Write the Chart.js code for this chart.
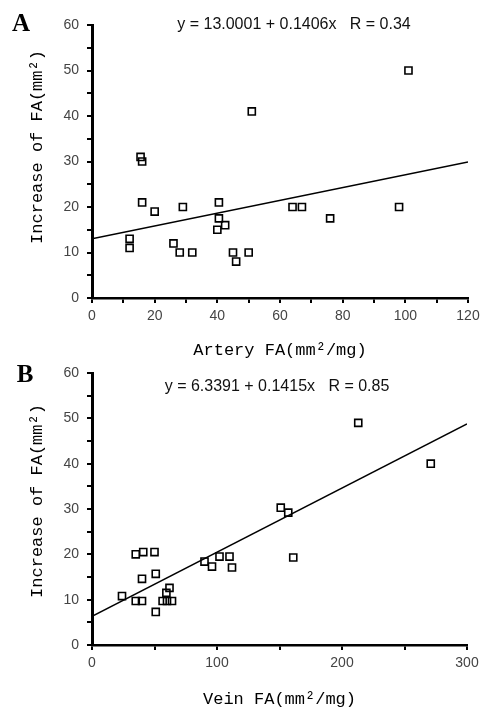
<!DOCTYPE html>
<html><head><meta charset="utf-8">
<script src="https://cdn.jsdelivr.net/npm/chart.js@4"></script>
<style>
html,body{margin:0;padding:0;background:#fff;width:481px;height:710px;overflow:hidden}
canvas{position:absolute;left:0}
#ca{top:0}
#cb{top:365px}
</style></head><body>
<canvas id="ca" width="481" height="365"></canvas>
<canvas id="cb" width="481" height="345"></canvas>
<script>
// Panel A: artery
const arteryX = [101, 51, 16, 15.5, 16, 20, 29, 12, 12, 26, 28, 32, 40.5, 40.5, 40, 42.5, 45, 46, 50, 64, 67, 76, 98];
const arteryY = [50, 41, 30, 31, 21, 19, 20, 13, 11, 12, 10, 10, 21, 17.5, 15, 16, 10, 8, 10, 20, 20, 17.5, 20];
const arteryFitX = [0, 120];
const arteryFitY = [13.0, 29.87];
// Panel B: vein
const veinX = [213, 271, 151, 157, 161, 35, 41, 50, 40, 51, 24, 35, 40, 51, 62, 59.5, 56.5, 60, 64, 90, 96, 102, 110, 112];
const veinY = [49, 40, 30.3, 29.2, 19.3, 20, 20.5, 20.5, 14.6, 15.7, 10.8, 9.7, 9.7, 7.3, 12.6, 11.5, 9.7, 9.7, 9.7, 18.4, 17.3, 19.5, 19.5, 17.1];
const veinFitX = [0, 300];
const veinFitY = [6.34, 48.79];
// ticks
const yTicks = [0, 10, 20, 30, 40, 50, 60];
const xTicksA = [0, 20, 40, 60, 80, 100, 120];
const xTicksB = [0, 100, 200, 300];

const pts = (xs, ys) => xs.map((x, i) => ({x, y: ys[i]}));

function makeChart(id, cfg) {
  const tickFont = {family: '"Liberation Sans", Arial, sans-serif', size: 14};
  const annot = {
    id: 'annot',
    afterDraw(chart) {
      const ctx = chart.ctx;
      ctx.save();
      ctx.fillStyle = '#000';
      ctx.font = 'bold 25px "Liberation Serif", serif';
      ctx.textAlign = 'center'; ctx.textBaseline = 'middle';
      ctx.fillText(cfg.letter, cfg.letterPos[0], cfg.letterPos[1]);
      ctx.font = '16px "Liberation Sans", Arial, sans-serif';
      ctx.fillStyle = '#111';
      ctx.fillText(cfg.eq, cfg.eqPos[0], cfg.eqPos[1]);
      ctx.translate(cfg.yTitlePos[0], cfg.yTitlePos[1]);
      ctx.rotate(-Math.PI / 2);
      ctx.font = '17px "Liberation Mono", "DejaVu Sans Mono", monospace';
      ctx.fillStyle = '#000';
      ctx.fillText('Increase of FA(mm²)', 0, 0);
      ctx.restore();
    }
  };
  return new Chart(document.getElementById(id), {
    type: 'scatter',
    data: {
      datasets: [
        {type: 'line', data: pts(cfg.fitX, cfg.fitY), borderColor: '#000', borderWidth: 1.5,
         pointRadius: 0, fill: false, order: 2},
        {data: pts(cfg.xs, cfg.ys), pointStyle: 'rect', pointRadius: 5, borderWidth: 1.6,
         borderColor: '#000', backgroundColor: 'rgba(0,0,0,0)', order: 1}
      ]
    },
    options: {
      responsive: false, animation: false, devicePixelRatio: 1,
      layout: {padding: cfg.pad},
      plugins: {legend: {display: false}, tooltip: {enabled: false}},
      scales: {
        x: {
          type: 'linear', min: 0, max: cfg.xMax,
          ticks: {stepSize: cfg.xStep, autoSkip: false, maxRotation: 0, padding: 5,
            font: tickFont, color: '#444',
            callback: v => cfg.xTicks.includes(v) ? String(v) : ''},
          grid: {drawOnChartArea: false, drawTicks: true, tickLength: 5, color: '#000', lineWidth: 2},
          border: {display: true, color: '#000', width: 2.5},
          title: {display: true, text: cfg.xTitle, color: '#000',
            font: {family: '"Liberation Mono", "DejaVu Sans Mono", monospace', size: 17},
            padding: {top: 0, bottom: cfg.xTitlePadBottom}},
          afterFit: s => { s.height = cfg.xAxisH; s.paddingLeft = 0; s.paddingRight = 0; }
        },
        y: {
          type: 'linear', min: 0, max: 60,
          ticks: {stepSize: 5, autoSkip: false, padding: 8, font: tickFont, color: '#444',
            callback: v => yTicks.includes(v) ? String(v) : ''},
          grid: {drawOnChartArea: false, drawTicks: true, tickLength: 5, color: '#000', lineWidth: 2},
          border: {display: true, color: '#000', width: 3},
          afterFit: s => { s.width = 92; s.paddingTop = 0; s.paddingBottom = 0; }
        }
      }
    },
    plugins: [annot]
  });
}

makeChart('ca', {
  xs: arteryX, ys: arteryY, fitX: arteryFitX, fitY: arteryFitY,
  xMax: 120, xStep: 10, xTicks: xTicksA, xTitle: 'Artery FA(mm²/mg)',
  pad: {top: 25, right: 13, left: 0, bottom: 0}, xAxisH: 67, xTitlePadBottom: 4,
  letter: 'A', letterPos: [21, 25], eq: 'y = 13.0001 + 0.1406x   R = 0.34', eqPos: [294, 25],
  yTitlePos: [37, 147]
});
makeChart('cb', {
  xs: veinX, ys: veinY, fitX: veinFitX, fitY: veinFitY,
  xMax: 300, xStep: 50, xTicks: xTicksB, xTitle: 'Vein FA(mm²/mg)',
  pad: {top: 8, right: 14, left: 0, bottom: 0}, xAxisH: 65, xTitlePadBottom: 0,
  letter: 'B', letterPos: [25, 11], eq: 'y = 6.3391 + 0.1415x   R = 0.85', eqPos: [277, 22],
  yTitlePos: [37, 136]
});
</script>
</body></html>
